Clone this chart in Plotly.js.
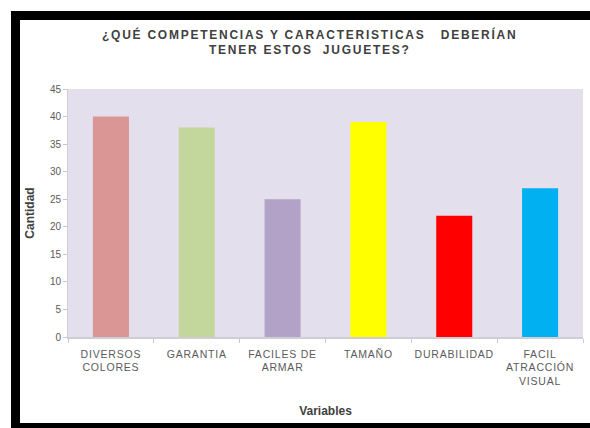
<!DOCTYPE html>
<html>
<head>
<meta charset="utf-8">
<script src="https://cdn.plot.ly/plotly-3.0.1.min.js"></script>
<style>
html,body{margin:0;padding:0;background:#fff;overflow:hidden;width:590px;height:428px;}
#wrap{position:relative;width:590px;height:428px;overflow:hidden;background:#fff;}
#chart{position:absolute;left:0;top:0;width:590px;height:428px;}
.bar{position:absolute;background:#000;pointer-events:none;}
</style>
</head>
<body>
<div id="wrap">
<div id="chart"></div>
<div class="bar" style="left:11px;top:11px;width:9px;height:417px;"></div>
<div class="bar" style="left:11px;top:11px;width:579px;height:9px;"></div>
<div class="bar" style="left:11px;top:423px;width:579px;height:5px;"></div>
</div>
<script>
const categories = ["DIVERSOS<br>COLORES", "GARANTIA", "FACILES DE<br>ARMAR", "TAMAÑO", "DURABILIDAD", "FACIL<br>ATRACCIÓN<br>VISUAL"];
const values = [40, 38, 25, 39, 22, 27];
const barColors = ["#d99694", "#c3d69b", "#b2a2c7", "#ffff00", "#ff0000", "#00b0f0"];
const yTicks = [0, 5, 10, 15, 20, 25, 30, 35, 40, 45];
const titleLines = ["¿QUÉ COMPETENCIAS Y CARACTERISTICAS   DEBERÍAN", "TENER ESTOS  JUGUETES?"];

const font = "Arial, 'Liberation Sans', sans-serif";
const spaced = s => "<span style='letter-spacing:1.75px'>" + s + "</span>";
const tickText = categories.map(c => c.split("<br>").map(l => "<span style='letter-spacing:0.8px'>" + l + "</span>").join("<br>"));

Plotly.newPlot('chart', [{
  type: 'bar',
  x: categories,
  y: values,
  marker: {color: barColors, line: {color: barColors, width: 0}},
  hoverinfo: 'none'
}], {
  width: 590, height: 428,
  margin: {l: 68, r: 7, t: 89, b: 91},
  paper_bgcolor: '#ffffff',
  plot_bgcolor: '#e4dfec',
  bargap: 0.58,
  showlegend: false,
  title: {
    text: '<b>' + titleLines.map(spaced).join('<br>') + '</b>',
    font: {family: font, size: 12, color: '#404040'},
    x: 0.525, xanchor: 'center', y: 0.91, yanchor: 'middle'
  },
  xaxis: {
    type: 'category',
    tickvals: categories, ticktext: tickText, tickangle: 0,
    showline: true, linecolor: '#d0cdd4', linewidth: 2,
    ticks: 'outside', tickson: 'boundaries', ticklen: 4, tickcolor: '#c8c8c8',
    ticklabelstandoff: 6,
    tickfont: {family: font, size: 10.5, color: '#5a5a5a'},
    showgrid: false,
    title: {text: '<b>Variables</b>', font: {family: font, size: 12, color: '#404040'}, standoff: 21}
  },
  yaxis: {
    range: [0, 45], tickvals: yTicks,
    showline: true, linecolor: '#d0cdd4', linewidth: 1,
    ticks: 'outside', ticklen: 4, tickcolor: '#c8c8c8',
    tickfont: {family: font, size: 10, color: '#5a5a5a'},
    showgrid: false, zeroline: false,
    title: {text: '<b>Cantidad</b>', font: {family: font, size: 12, color: '#404040'}, standoff: 12}
  }
}, {displayModeBar: false, staticPlot: true});
</script>
</body>
</html>
